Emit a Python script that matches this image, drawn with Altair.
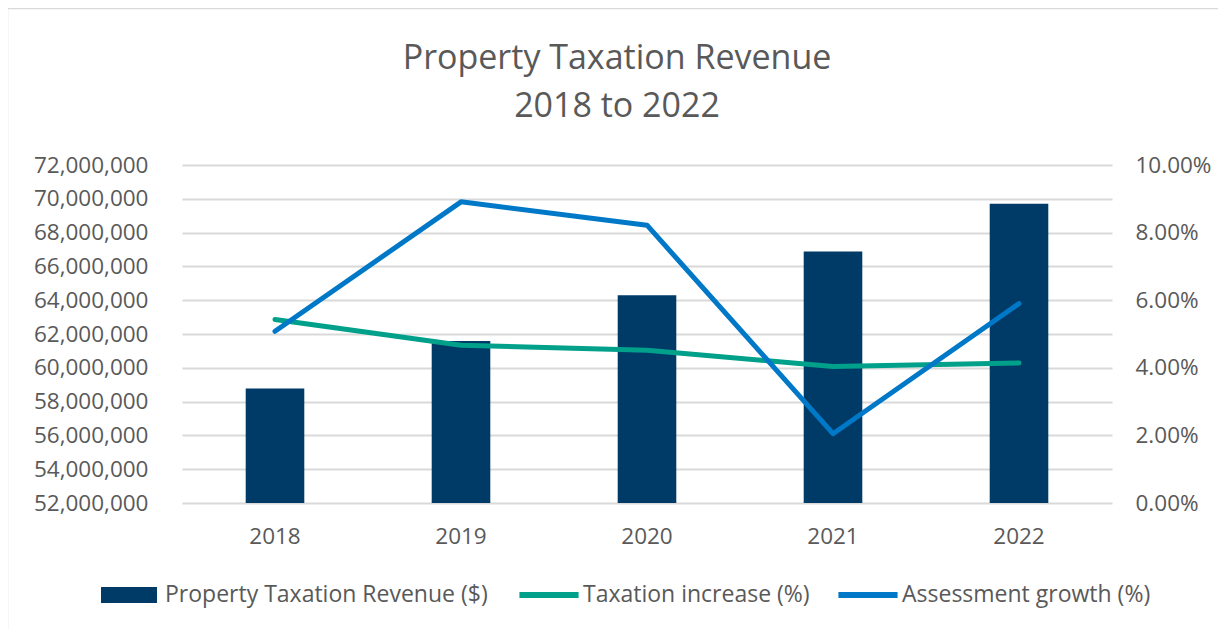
import altair as alt
import pandas as pd

years = ["2018", "2019", "2020", "2021", "2022"]
revenue = [58770000, 61580000, 64290000, 66880000, 69710000]
tax_increase = [0.0543, 0.0467, 0.0452, 0.0404, 0.0414]
assessment_growth = [0.0508, 0.0891, 0.0822, 0.0205, 0.0590]

bar_name = "Property Taxation Revenue ($)"
line_names = ["Taxation increase (%)", "Assessment growth (%)"]
left_ticks = [52000000, 54000000, 56000000, 58000000, 60000000, 62000000,
              64000000, 66000000, 68000000, 70000000, 72000000]
right_ticks = [0.0, 0.02, 0.04, 0.06, 0.08, 0.10]

FONT = "Open Sans"
TXT = "#595959"
GRID = "#d9d9d9"

bars_df = pd.DataFrame({"Year": years, "Revenue": revenue, "Series": bar_name})
lines_df = pd.DataFrame({
    "Year": years * 2,
    "Value": tax_increase + assessment_growth,
    "Series": [line_names[0]] * 5 + [line_names[1]] * 5,
})

W, H = 930, 338

xenc = alt.X("Year:N", title=None,
             scale=alt.Scale(paddingInner=0.685, paddingOuter=0.3425),
             axis=alt.Axis(labelAngle=0, ticks=False, domain=False, grid=False,
                           labelPadding=22, labelFontSize=22.5, labelColor=TXT,
                           labelFont=FONT))

bars = alt.Chart(bars_df).mark_bar(color="#003a66", clip=True).encode(
    x=xenc,
    y=alt.Y("Revenue:Q", title=None,
            scale=alt.Scale(domain=[52000000, 72000000], zero=False, nice=False),
            axis=alt.Axis(values=left_ticks, format=",d", ticks=False, domain=False,
                          grid=True, gridColor=GRID, gridWidth=2,
                          labelPadding=34, labelFontSize=22.5, labelColor=TXT,
                          labelFont=FONT)),
    color=alt.Color("Series:N", title=None,
                    scale=alt.Scale(domain=[bar_name], range=["#003a66"]),
                    legend=alt.Legend(orient="none", legendX=-81, legendY=402,
                                      symbolType="M-1,-0.29H1V0.29H-1Z",
                                      symbolSize=3136, symbolStrokeWidth=0,
                                      labelFontSize=23, labelColor=TXT, labelFont=FONT,
                                      labelOffset=8, labelLimit=600)),
)

lines = alt.Chart(lines_df).mark_line(strokeWidth=5, strokeCap="round",
                                      strokeJoin="round").encode(
    x=alt.X("Year:N"),
    y=alt.Y("Value:Q", title=None,
            scale=alt.Scale(domain=[0, 0.10], nice=False),
            axis=alt.Axis(orient="right", values=right_ticks, format=".2%",
                          ticks=False, domain=False, grid=False,
                          labelPadding=23, labelFontSize=22.5, labelColor=TXT,
                          labelFont=FONT)),
    stroke=alt.Stroke("Series:N", title=None,
                      scale=alt.Scale(domain=line_names,
                                      range=["#00a08a", "#0078c8"]),
                      legend=alt.Legend(orient="none", legendX=334, legendY=397,
                                        direction="horizontal",
                                        symbolType="stroke", symbolSize=3500,
                                        symbolStrokeWidth=6,
                                        labelFontSize=23, labelColor=TXT,
                                        labelFont=FONT, labelOffset=1,
                                        columnPadding=16, labelLimit=600)),
)

border = alt.Chart(pd.DataFrame({"a": [0]})).mark_rect(
    fillOpacity=0, stroke=GRID, strokeWidth=2.5
).encode(
    x=alt.value(-175), x2=alt.value(W + 200),
    y=alt.value(-157), y2=alt.value(471),
)

chart = alt.layer(border, bars, lines).resolve_scale(
    y="independent", color="independent"
).properties(
    width=W, height=H,
    padding={"left": 174, "top": 157, "right": 106, "bottom": 126},
    autosize=alt.AutoSizeParams(type="none"),
    title=alt.TitleParams(["Property Taxation Revenue", "2018 to 2022"],
                          fontSize=34, font=FONT, color=TXT, fontWeight="normal",
                          lineHeight=48, anchor="middle", offset=0, dx=-30, dy=117,
                          frame="group"),
).configure_view(stroke=None)

chart.save("out.html", embed_options={"renderer": "svg", "actions": False})
